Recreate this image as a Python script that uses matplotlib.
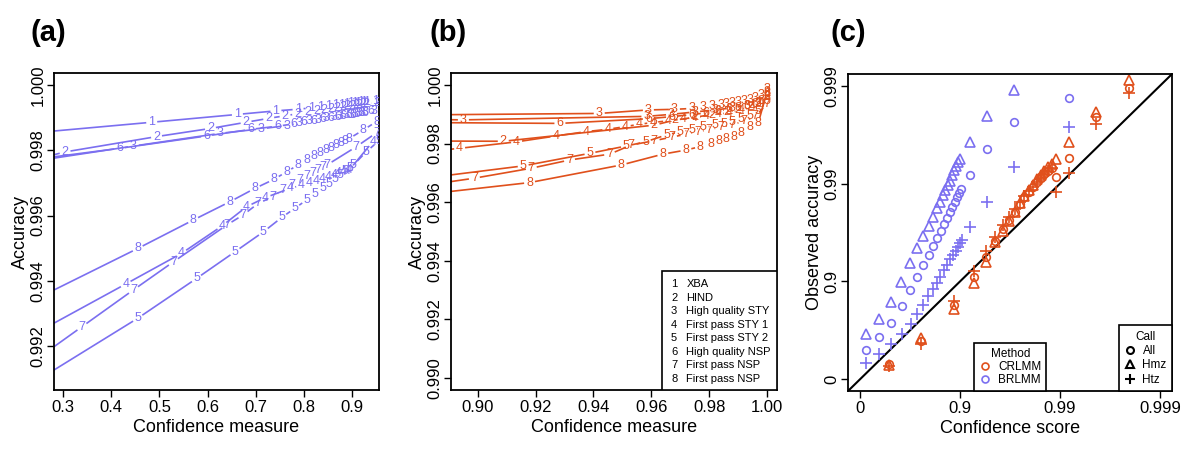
import numpy as np
import matplotlib
matplotlib.use("Agg")
import matplotlib.pyplot as plt
from matplotlib.lines import Line2D
from matplotlib.patches import Rectangle

plt.rcParams['font.family'] = ['Liberation Sans', 'DejaVu Sans']

blue = '#7b6ff0'
orange = '#e0501c'

# ---- panel (a): accuracy vs confidence measure, one curve per data set
a_labels = ['1', '2', '3', '6', '8', '4', '7', '5']
a_x = [
    [0.25, 0.484, 0.662, 0.742, 0.788, 0.815, 0.835, 0.852, 0.866, 0.878, 0.888, 0.897, 0.905, 0.912, 0.918, 0.924, 0.930, 0.948],
    [0.25, 0.304, 0.494, 0.606, 0.680, 0.727, 0.761, 0.787, 0.808, 0.826, 0.842, 0.856, 0.869, 0.880, 0.890, 0.899, 0.907, 0.915, 0.922, 0.929, 0.952],
    [0.25, 0.446, 0.626, 0.712, 0.765, 0.79, 0.81, 0.83, 0.847, 0.862, 0.875, 0.887, 0.897, 0.906, 0.914, 0.921, 0.928, 0.945],
    [0.25, 0.417, 0.598, 0.689, 0.745, 0.78, 0.80, 0.82, 0.84, 0.856, 0.87, 0.882, 0.893, 0.902, 0.911, 0.919, 0.926, 0.94],
    [0.25, 0.455, 0.570, 0.646, 0.698, 0.738, 0.764, 0.788, 0.806, 0.821, 0.834, 0.846, 0.857, 0.867, 0.876, 0.885, 0.893, 0.923, 0.951],
    [0.25, 0.430, 0.546, 0.63, 0.681, 0.72, 0.771, 0.795, 0.812, 0.826, 0.839, 0.851, 0.862, 0.872, 0.881, 0.889, 0.895, 0.943, 0.96],
    [0.25, 0.339, 0.446, 0.529, 0.640, 0.674, 0.705, 0.736, 0.756, 0.775, 0.792, 0.806, 0.818, 0.829, 0.839, 0.848, 0.909, 0.951],
    [0.25, 0.455, 0.577, 0.657, 0.716, 0.754, 0.781, 0.806, 0.824, 0.84, 0.853, 0.865, 0.876, 0.886, 0.895, 0.903, 0.930, 0.955],
]
a_y = [
    [0.99855, 0.99886, 0.99910, 0.99921, 0.99926, 0.99930, 0.99933, 0.99936, 0.99938, 0.99940, 0.99942, 0.99944, 0.99945, 0.99946, 0.99947, 0.99948, 0.99949, 0.99952],
    [0.99775, 0.99795, 0.99842, 0.99867, 0.99886, 0.99898, 0.99906, 0.99912, 0.99917, 0.99921, 0.99925, 0.99928, 0.99931, 0.99933, 0.99935, 0.99937, 0.99939, 0.99940, 0.99942, 0.99943, 0.99946],
    [0.99769, 0.99813, 0.99852, 0.99866, 0.99876, 0.99884, 0.99889, 0.99894, 0.99898, 0.99901, 0.99904, 0.99907, 0.99909, 0.99911, 0.99913, 0.99915, 0.99917, 0.99922],
    [0.99774, 0.99806, 0.99844, 0.99864, 0.99874, 0.99881, 0.99886, 0.99891, 0.99895, 0.99899, 0.99902, 0.99905, 0.99907, 0.99909, 0.99911, 0.99913, 0.99915, 0.99920],
    [0.99349, 0.99499, 0.99586, 0.99642, 0.99683, 0.99711, 0.99734, 0.99755, 0.99770, 0.99781, 0.99791, 0.99800, 0.99808, 0.99815, 0.99822, 0.99828, 0.99835, 0.99862, 0.99888],
    [0.99245, 0.99390, 0.99484, 0.99568, 0.99627, 0.99655, 0.99683, 0.99693, 0.99700, 0.99706, 0.99712, 0.99718, 0.99724, 0.99729, 0.99734, 0.99738, 0.99741, 0.99826, 0.99850],
    [0.99165, 0.99259, 0.99372, 0.99458, 0.99571, 0.99602, 0.99637, 0.99658, 0.99678, 0.99695, 0.99709, 0.99721, 0.99731, 0.99740, 0.99748, 0.99755, 0.99811, 0.99854],
    [0.99098, 0.99285, 0.99407, 0.99489, 0.99550, 0.99594, 0.99622, 0.99648, 0.99667, 0.99684, 0.99698, 0.99712, 0.99724, 0.99735, 0.99745, 0.99755, 0.99796, 0.99828],
]

# ---- panel (b)
b_labels = ['3', '3', '6', '2', '4', '5', '7', '8']
b_x = [
    [0.88, 0.942, 0.959, 0.968, 0.974, 0.978, 0.981, 0.984, 0.986, 0.988, 0.990, 0.992, 0.994, 0.996, 0.998, 1.0],
    [0.88, 0.895, 0.9585, 0.967, 0.975, 0.982, 0.988, 0.993, 0.997, 1.0],
    [0.88, 0.9284, 0.959, 0.967, 0.974, 0.979, 0.983, 0.987, 0.990, 0.993, 0.996, 0.998, 1.0],
    [0.88, 0.9088, 0.961, 0.968, 0.975, 0.981, 0.986, 0.990, 0.994, 0.997, 1.0],
    [0.88, 0.8937, 0.9134, 0.927, 0.9375, 0.945, 0.951, 0.9558, 0.9605, 0.966, 0.971, 0.975, 0.979, 0.983, 0.987, 0.991, 0.995, 0.998, 1.0],
    [0.88, 0.9157, 0.9388, 0.9514, 0.958, 0.9653, 0.970, 0.974, 0.978, 0.982, 0.985, 0.988, 0.991, 0.994, 0.997, 1.0],
    [0.88, 0.8988, 0.9185, 0.9317, 0.9456, 0.953, 0.961, 0.967, 0.972, 0.976, 0.980, 0.984, 0.988, 0.992, 0.996, 1.0],
    [0.88, 0.9179, 0.9496, 0.964, 0.972, 0.977, 0.9805, 0.9835, 0.986, 0.9885, 0.991, 0.994, 0.997, 1.0],
]
b_y = [
    [0.99898, 0.99903, 0.99915, 0.99917, 0.99920, 0.99926, 0.99930, 0.99933, 0.99936, 0.99939, 0.99942, 0.99946, 0.99950, 0.99956, 0.99965, 0.99985],
    [0.99883, 0.99881, 0.99893, 0.99900, 0.99908, 0.99915, 0.99922, 0.99930, 0.99940, 0.99960],
    [0.99872, 0.99869, 0.99885, 0.99892, 0.99899, 0.99905, 0.99911, 0.99917, 0.99922, 0.99928, 0.99936, 0.99946, 0.99970],
    [0.99809, 0.99808, 0.99863, 0.99880, 0.99890, 0.99899, 0.99907, 0.99915, 0.99924, 0.99935, 0.99960],
    [0.99770, 0.99784, 0.99806, 0.99826, 0.99841, 0.99849, 0.99858, 0.99866, 0.99872, 0.99878, 0.99884, 0.99889, 0.99894, 0.99900, 0.99906, 0.99914, 0.99924, 0.99938, 0.99965],
    [0.99680, 0.99724, 0.99767, 0.99792, 0.99806, 0.99830, 0.99840, 0.99848, 0.99855, 0.99862, 0.99868, 0.99875, 0.99884, 0.99895, 0.99910, 0.99945],
    [0.99655, 0.99682, 0.99716, 0.99744, 0.99764, 0.99795, 0.99810, 0.99822, 0.99832, 0.99840, 0.99848, 0.99856, 0.99865, 0.99876, 0.99893, 0.99935],
    [0.99625, 0.99667, 0.99727, 0.99764, 0.99778, 0.99790, 0.99800, 0.99808, 0.99815, 0.99823, 0.99835, 0.99855, 0.99870, 0.99975],
]
legend_nums = ['1', '2', '3', '4', '5', '6', '7', '8']
legend_names = ['XBA', 'HIND', 'High quality STY', 'First pass STY 1', 'First pass STY 2',
                'High quality NSP', 'First pass NSP', 'First pass NSP']

# ---- panel (c): values on -log10(1 - p) scale
brl_x_all = [0.06, 0.19, 0.31, 0.417, 0.503, 0.573, 0.633, 0.687, 0.73, 0.77, 0.807, 0.837, 0.867, 0.897, 0.923, 0.947, 0.967, 0.987, 1.007, 1.103, 1.273, 1.543, 2.09]
brl_y_all = [0.303, 0.432, 0.579, 0.750, 0.910, 1.047, 1.170, 1.272, 1.358, 1.440, 1.518, 1.590, 1.651, 1.713, 1.764, 1.809, 1.860, 1.901, 1.942, 2.088, 2.354, 2.627, 2.876]
brl_x_hmz = [0.06, 0.19, 0.31, 0.413, 0.503, 0.57, 0.633, 0.687, 0.733, 0.77, 0.80, 0.83, 0.853, 0.877, 0.90, 0.917, 0.937, 0.957, 0.977, 1.0, 1.10, 1.273, 1.543]
brl_y_hmz = [0.467, 0.611, 0.785, 0.989, 1.187, 1.337, 1.467, 1.569, 1.661, 1.746, 1.815, 1.883, 1.934, 1.986, 2.030, 2.088, 2.139, 2.180, 2.218, 2.249, 2.420, 2.686, 2.959]
brl_x_htz = [0.06, 0.19, 0.31, 0.417, 0.507, 0.573, 0.633, 0.683, 0.727, 0.767, 0.803, 0.837, 0.87, 0.90, 0.93, 0.957, 0.98, 1.003, 1.023, 1.103, 1.273, 1.543, 2.09]
brl_y_htz = [0.170, 0.256, 0.358, 0.467, 0.563, 0.665, 0.764, 0.850, 0.918, 0.986, 1.048, 1.116, 1.170, 1.225, 1.269, 1.310, 1.354, 1.395, 1.423, 1.552, 1.815, 2.173, 2.582]

crl_x = [0.293, 0.61, 0.937, 1.137, 1.263, 1.353, 1.427, 1.49, 1.55, 1.60, 1.643, 1.687, 1.727, 1.767, 1.807, 1.843, 1.883, 1.923, 1.963, 2.09, 2.357, 2.69]
crl_y_all = [0.160, 0.389, 0.758, 1.047, 1.252, 1.412, 1.532, 1.627, 1.712, 1.791, 1.859, 1.917, 1.968, 2.019, 2.053, 2.094, 2.132, 2.163, 2.064, 2.265, 2.685, 2.975]
crl_y_hmz = [0.143, 0.423, 0.723, 0.986, 1.201, 1.400, 1.520, 1.620, 1.710, 1.800, 1.870, 1.930, 1.990, 2.050, 2.090, 2.130, 2.170, 2.200, 2.252, 2.420, 2.730, 3.054]
crl_y_htz = [0.133, 0.365, 0.802, 1.109, 1.310, 1.457, 1.573, 1.660, 1.740, 1.810, 1.870, 1.920, 1.970, 2.020, 2.060, 2.100, 2.130, 2.160, 1.910, 2.105, 2.607, 2.924]

c_ticks = [0, 1, 2, 3]
c_ticklabels = ['0', '0.9', '0.99', '0.999']


def gapline(ax, xs, ys, lab, color, gap=5.5):
    # R-style type="b": segments stop short of each number label
    pts = ax.transData.transform(np.column_stack([xs, ys]))
    inv = ax.transData.inverted()
    for p, q in zip(pts[:-1], pts[1:]):
        d = q - p
        L = np.hypot(d[0], d[1])
        if L <= 2 * gap:
            continue
        u = d / L
        a = inv.transform(p + u * gap)
        b = inv.transform(q - u * gap)
        ax.plot([a[0], b[0]], [a[1], b[1]], color=color, lw=1.2, solid_capstyle='butt')
    x0, x1 = ax.get_xlim()
    for x, y in zip(xs, ys):
        if x < x0:
            continue  # would be clipped anyway
        ax.text(x, y, lab, ha='center', va='center', fontsize=9, color=color, clip_on=True)


def style(ax):
    for s in ax.spines.values():
        s.set_linewidth(1.3)
    ax.tick_params(direction='out', length=5, width=1, labelsize=12, pad=2)
    ax.tick_params(axis='y', labelrotation=90, pad=1)
    for lbl in ax.get_yticklabels():
        lbl.set_va('center')


fig = plt.figure(figsize=(12, 4.49), dpi=100)
ax1 = fig.add_axes([0.045, 0.1314, 0.2708, 0.706])
ax2 = fig.add_axes([0.3758, 0.1314, 0.2717, 0.706])
ax3 = fig.add_axes([0.7067, 0.1292, 0.27, 0.706])

# (a)
ax1.set_xlim(0.281, 0.956)
ax1.set_ylim(0.99065, 1.00037)
ax1.set_xticks([0.3, 0.4, 0.5, 0.6, 0.7, 0.8, 0.9])
ax1.set_yticks([0.992, 0.994, 0.996, 0.998, 1.000])
ax1.set_yticklabels(['0.992', '0.994', '0.996', '0.998', '1.000'])
for xs, ys, lab in zip(a_x, a_y, a_labels):
    gapline(ax1, xs, ys, lab, blue)
ax1.set_xlabel('Confidence measure', fontsize=13, labelpad=3)
ax1.set_ylabel('Accuracy', fontsize=13, labelpad=1)
style(ax1)

# (b)
ax2.set_xlim(0.8907, 1.0035)
ax2.set_ylim(0.98959, 1.00041)
ax2.set_xticks([0.90, 0.92, 0.94, 0.96, 0.98, 1.00])
ax2.set_xticklabels(['0.90', '0.92', '0.94', '0.96', '0.98', '1.00'])
ax2.set_yticks([0.990, 0.992, 0.994, 0.996, 0.998, 1.000])
ax2.set_yticklabels(['0.990', '0.992', '0.994', '0.996', '0.998', '1.000'])
for xs, ys, lab in zip(b_x, b_y, b_labels):
    gapline(ax2, xs, ys, lab, orange)
ax2.add_patch(Rectangle((0.647, 0), 0.353, 0.375, transform=ax2.transAxes,
                        facecolor='white', edgecolor='black', lw=1.2, zorder=5))
for i, (n, name) in enumerate(zip(legend_nums, legend_names)):
    yy = 0.334 - i * 0.0426
    ax2.text(0.675, yy, n, transform=ax2.transAxes, fontsize=8, va='center', zorder=6)
    ax2.text(0.722, yy, name, transform=ax2.transAxes, fontsize=8, va='center', zorder=6)
ax2.set_xlabel('Confidence measure', fontsize=13, labelpad=3)
ax2.set_ylabel('Accuracy', fontsize=13, labelpad=1)
style(ax2)

# (c)
ax3.set_xlim(-0.12, 3.12)
ax3.set_ylim(-0.12, 3.12)
ax3.plot([-0.12, 3.12], [-0.12, 3.12], color='black', lw=1.5)
mk = dict(linestyle='none', mfc='none', ms=5.5, mew=1.2)
ax3.plot(brl_x_all, brl_y_all, marker='o', color=blue, **mk)
ax3.plot(brl_x_hmz, brl_y_hmz, marker='^', color=blue, linestyle='none', mfc='none', ms=6.5, mew=1.2)
ax3.plot(brl_x_htz, brl_y_htz, marker='+', color=blue, linestyle='none', ms=8, mew=1.2)
ax3.plot(crl_x, crl_y_all, marker='o', color=orange, **mk)
ax3.plot(crl_x, crl_y_hmz, marker='^', color=orange, linestyle='none', mfc='none', ms=6.5, mew=1.2)
ax3.plot(crl_x, crl_y_htz, marker='+', color=orange, linestyle='none', ms=8, mew=1.2)
ax3.set_xticks(c_ticks)
ax3.set_xticklabels(c_ticklabels)
ax3.set_yticks(c_ticks)
ax3.set_yticklabels(c_ticklabels)
ax3.set_xlabel('Confidence score', fontsize=13, labelpad=3)
ax3.set_ylabel('Observed accuracy', fontsize=13, labelpad=1)
style(ax3)

h_method = [Line2D([], [], marker='o', color=orange, mfc='none', ls='none', ms=5, mew=1.2),
            Line2D([], [], marker='o', color=blue, mfc='none', ls='none', ms=5, mew=1.2)]
leg1 = ax3.legend(h_method, ['CRLMM', 'BRLMM'], title='Method', loc='lower right',
                  bbox_to_anchor=(0.611, 0), borderaxespad=0, fontsize=8.5, title_fontsize=8.5,
                  fancybox=False, edgecolor='black', framealpha=1, handlelength=1.0,
                  handletextpad=0.6, borderpad=0.4, labelspacing=0.1)
leg1.get_frame().set_linewidth(1.2)
ax3.add_artist(leg1)
h_call = [Line2D([], [], marker='o', color='black', mfc='none', ls='none', ms=5, mew=1.5),
          Line2D([], [], marker='^', color='black', mfc='none', ls='none', ms=5.5, mew=1.5),
          Line2D([], [], marker='+', color='black', ls='none', ms=7, mew=1.5)]
leg2 = ax3.legend(h_call, ['All', 'Hmz', 'Htz'], title='Call', loc='lower right',
                  bbox_to_anchor=(1, 0), borderaxespad=0, fontsize=8.5, title_fontsize=8.5,
                  fancybox=False, edgecolor='black', framealpha=1, handlelength=0.9,
                  handletextpad=0.6, borderpad=0.45, labelspacing=0.2)
leg2.get_frame().set_linewidth(1.2)

for x, lab in [(0.025, '(a)'), (0.358, '(b)'), (0.692, '(c)')]:
    fig.text(x, 0.926, lab, fontsize=21, fontweight='bold', va='center')

fig.savefig('out.png', dpi=100)
